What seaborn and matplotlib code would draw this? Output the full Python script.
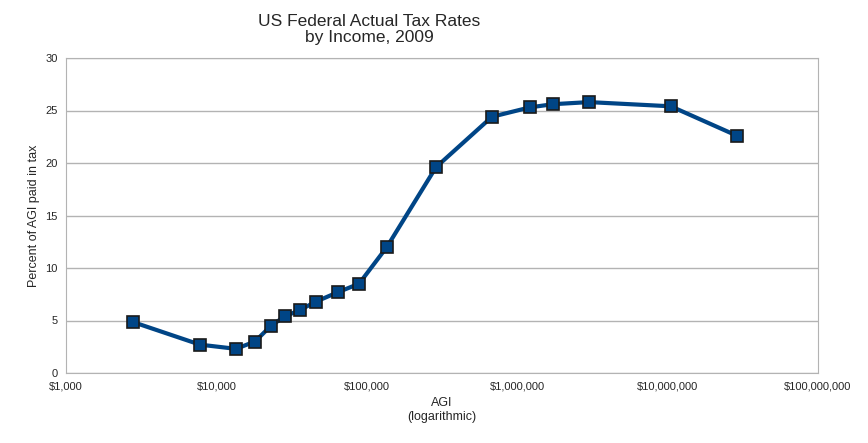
import matplotlib
matplotlib.use("Agg")
import matplotlib.pyplot as plt
import matplotlib.ticker as mticker
import seaborn as sns
import pandas as pd

agi = [2790, 7780, 13500, 18060, 23070, 28580, 35970, 45940, 64400, 88800,
       136000, 288500, 679000, 1216000, 1730000, 3000000, 10500000, 28900000]
rate = [4.85, 2.7, 2.3, 3.0, 4.5, 5.4, 6.0, 6.8, 7.7, 8.5,
        12.0, 19.6, 24.4, 25.3, 25.6, 25.8, 25.4, 22.6]
df = pd.DataFrame({"agi": agi, "rate": rate})

sns.set_style("white")
plt.rcParams['font.family'] = ['Liberation Sans', 'DejaVu Sans']
fig = plt.figure(figsize=(8.68, 4.43), dpi=100)
ax = fig.add_axes([66/868, 70/443, 752/868, 315/443])
sns.lineplot(data=df, x="agi", y="rate", ax=ax, color="#004586", linewidth=3,
             marker="s", markersize=8, markerfacecolor="#004586",
             markeredgecolor="#1a1a1a", markeredgewidth=1.2)
ax.set_xscale("log")
ax.set_xlim(1e3, 1e8)
ax.set_ylim(0, 30)
ax.set_yticks(range(0, 31, 5))
ax.xaxis.set_major_locator(mticker.LogLocator(base=10, numticks=10))
ax.xaxis.set_minor_locator(mticker.NullLocator())
ax.xaxis.set_major_formatter(mticker.FuncFormatter(lambda v, p: "${:,.0f}".format(v)))
ax.grid(axis="y", color="#b3b3b3", linewidth=1)
ax.set_axisbelow(True)
for s in ax.spines.values():
    s.set_color("#b3b3b3")
ax.tick_params(labelsize=8, length=0, pad=6)
ax.set_xlabel("AGI\n(logarithmic)", fontsize=9)
ax.set_ylabel("Percent of AGI paid in tax", fontsize=9)
fig.text(0.425, 0.905, "US Federal Actual Tax Rates\nby Income, 2009", ha="center",
         fontsize=12.5, linespacing=1.05)
fig.savefig("out.png", dpi=100)
